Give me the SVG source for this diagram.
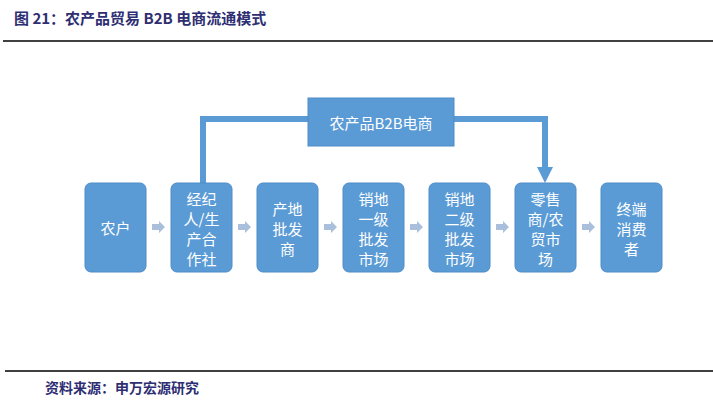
<svg xmlns="http://www.w3.org/2000/svg" width="713" height="401" viewBox="0 0 713 401">
<defs>
<style>
.box{fill:#5b9bd5;stroke:#4d8cc8;stroke-width:1}
.bt{fill:#ffffff;font-family:"Noto Sans CJK SC","Noto Sans",sans-serif;font-size:15px;text-anchor:middle;dominant-baseline:central}
.hd{fill:#2e2e72;font-family:"Noto Sans CJK SC","Noto Sans",sans-serif;font-weight:bold}
.conn{fill:none;stroke:#5b9bd5;stroke-width:6}
.sa{fill:#a9bfdc}
</style>
<path id="sarrow" d="M0,-3 L7,-3 L7,-6 L13,0 L7,6 L7,3 L0,3 Z"/>
</defs>
<rect width="713" height="401" fill="#ffffff"/>
<text class="hd" x="14" y="24" font-size="15">图 21：农产品贸易 B2B 电商流通模式</text>
<line x1="3" y1="41" x2="713" y2="41" stroke="#000" stroke-width="1.5"/>
<line x1="5" y1="371" x2="713" y2="371" stroke="#000" stroke-width="1.5"/>
<text class="hd" x="45" y="393" font-size="14">资料来源：申万宏源研究</text>

<g id="connectors">
<polyline class="conn" points="308,119 203,119 203,183"/>
<polyline class="conn" points="454,119 545,119 545,168"/>
<path d="M537,167 L553,167 L545,183 Z" fill="#5b9bd5"/>
<use href="#sarrow" class="sa" x="152" y="227"/>
<use href="#sarrow" class="sa" x="238" y="227"/>
<use href="#sarrow" class="sa" x="324" y="227"/>
<use href="#sarrow" class="sa" x="410" y="227"/>
<use href="#sarrow" class="sa" x="496" y="227"/>
<use href="#sarrow" class="sa" x="582" y="227"/>
</g>

<g id="b2b">
<rect class="box" x="308" y="98" width="146" height="48"/>
<text class="bt" x="381" y="122" font-size="14">农产品B2B电商</text>
</g>
<g id="n1">
<rect class="box" x="85" y="183" width="61" height="89" rx="6"/>
<text class="bt" x="115.5" y="227">农户</text>
</g>
<g id="n2">
<rect class="box" x="171" y="183" width="61" height="89" rx="6"/>
<text class="bt" x="201.5" y="198">经纪</text>
<text class="bt" x="201.5" y="218">人/生</text>
<text class="bt" x="201.5" y="238">产合</text>
<text class="bt" x="201.5" y="258">作社</text>
</g>
<g id="n3">
<rect class="box" x="257" y="183" width="61" height="89" rx="6"/>
<text class="bt" x="287.5" y="208">产地</text>
<text class="bt" x="287.5" y="228">批发</text>
<text class="bt" x="287.5" y="248">商</text>
</g>
<g id="n4">
<rect class="box" x="343" y="183" width="61" height="89" rx="6"/>
<text class="bt" x="373.5" y="198">销地</text>
<text class="bt" x="373.5" y="218">一级</text>
<text class="bt" x="373.5" y="238">批发</text>
<text class="bt" x="373.5" y="258">市场</text>
</g>
<g id="n5">
<rect class="box" x="429" y="183" width="61" height="89" rx="6"/>
<text class="bt" x="459.5" y="198">销地</text>
<text class="bt" x="459.5" y="218">二级</text>
<text class="bt" x="459.5" y="238">批发</text>
<text class="bt" x="459.5" y="258">市场</text>
</g>
<g id="n6">
<rect class="box" x="515" y="183" width="61" height="89" rx="6"/>
<text class="bt" x="545.5" y="198">零售</text>
<text class="bt" x="545.5" y="218">商/农</text>
<text class="bt" x="545.5" y="238">贸市</text>
<text class="bt" x="545.5" y="258">场</text>
</g>
<g id="n7">
<rect class="box" x="601" y="183" width="61" height="89" rx="6"/>
<text class="bt" x="631.5" y="208">终端</text>
<text class="bt" x="631.5" y="228">消费</text>
<text class="bt" x="631.5" y="248">者</text>
</g>
</svg>
